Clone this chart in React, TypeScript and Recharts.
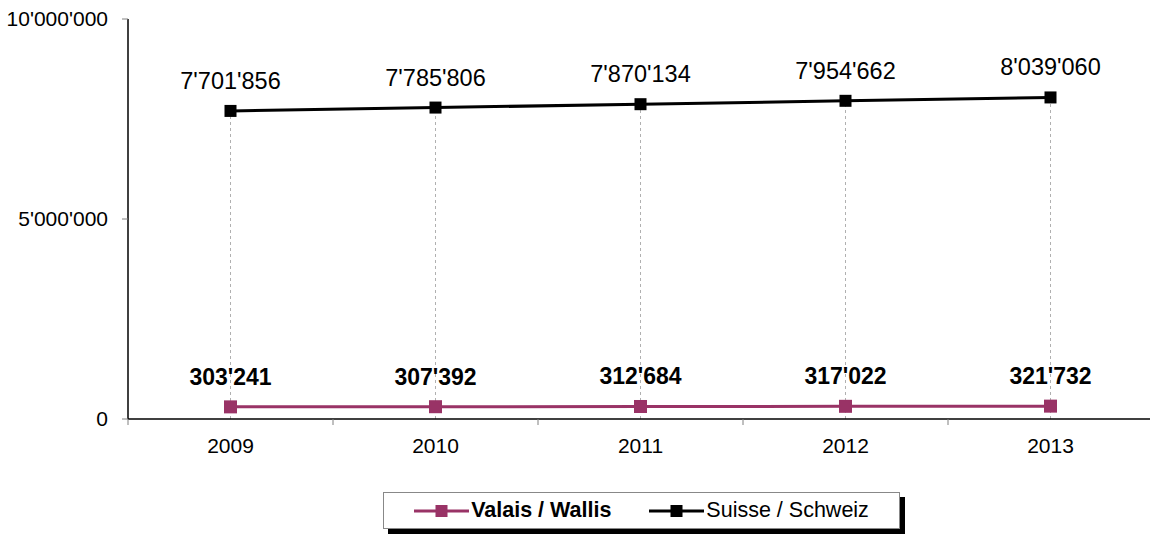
import React from 'react';
import { LineChart, Line, XAxis, YAxis, LabelList, ReferenceLine } from 'recharts';

const years = ['2009', '2010', '2011', '2012', '2013'];
const valais = [303241, 307392, 312684, 317022, 321732];
const suisse = [7701856, 7785806, 7870134, 7954662, 8039060];
const yTicks = [0, 5000000, 10000000];

const VALAIS_COLOR = '#993366';
const FONT = 'Arial, "Liberation Sans", sans-serif';
const X_TICK_SIZE = 6;
const X_TICK_MARGIN = 13;

const data = years.map((year, i) => ({ year, valais: valais[i], suisse: suisse[i] }));

const fmt = (v: number) => String(v).replace(/\B(?=(\d{3})+(?!\d))/g, "'");

const squareDot = (color: string, size: number) => (props: any) => {
  const { cx, cy, index } = props;
  if (cx == null || cy == null) return <g key={index} />;
  return <rect key={index} x={cx - size / 2} y={cy - size / 2} width={size} height={size} fill={color} />;
};

// category label centred in its band, tick mark drawn at the band boundary (Excel style)
const BandTick = (props: any) => {
  const { x, y, payload, width, visibleTicksCount, index } = props;
  const band = Number(width) / (visibleTicksCount || years.length);
  const axisY = y - X_TICK_SIZE - X_TICK_MARGIN;
  const left = x - band / 2;
  return (
    <g>
      <line x1={left} y1={axisY} x2={left} y2={axisY + X_TICK_SIZE} stroke="#808080" />
      {index === visibleTicksCount - 1 && (
        <line x1={left + band} y1={axisY} x2={left + band} y2={axisY + X_TICK_SIZE} stroke="#808080" />
      )}
      <text x={x} y={y} dy="0.71em" textAnchor="middle" fontSize={21} fill="#000" fontFamily={FONT}>
        {payload.value}
      </text>
    </g>
  );
};

const LegendItem = ({ color, label, bold }: { color: string; label: string; bold?: boolean }) => (
  <div style={{ display: 'flex', alignItems: 'center' }}>
    <svg width={55} height={14}>
      <line x1={0} y1={7} x2={55} y2={7} stroke={color} strokeWidth={3} />
      <rect x={21.5} y={1} width={12} height={12} fill={color} />
    </svg>
    <span style={{ marginLeft: 2, fontSize: 21.5, fontWeight: bold ? 'bold' : 'normal' }}>{label}</span>
  </div>
);

export default function App() {
  return (
    <div
      style={{
        position: 'absolute',
        left: 0,
        top: 0,
        width: 1150,
        height: 534,
        overflow: 'hidden',
        background: '#fff',
        fontFamily: FONT,
      }}
    >
      <LineChart width={1153} height={534} data={data} margin={{ top: 19, right: 0, bottom: 75, left: 0 }}>
        <XAxis
          dataKey="year"
          scale="band"
          height={40}
          axisLine={{ stroke: '#000', strokeWidth: 1.5 }}
          tickLine={false}
          tickSize={X_TICK_SIZE}
          tickMargin={X_TICK_MARGIN}
          interval={0}
          tick={<BandTick />}
        />
        <YAxis
          width={128}
          domain={[0, 10000000]}
          ticks={yTicks}
          tickFormatter={fmt}
          axisLine={{ stroke: '#000', strokeWidth: 1.5 }}
          tickLine={{ stroke: '#808080' }}
          tickSize={6}
          tickMargin={14}
          tick={{ fontSize: 21, fill: '#000', fontFamily: FONT }}
        />
        {data.map((d) => (
          <ReferenceLine
            key={d.year}
            segment={[
              { x: d.year, y: 0 },
              { x: d.year, y: d.suisse },
            ]}
            stroke="#b0b0b0"
            strokeDasharray="3 3"
            strokeWidth={1}
          />
        ))}
        <Line
          dataKey="valais"
          stroke={VALAIS_COLOR}
          strokeWidth={3}
          dot={squareDot(VALAIS_COLOR, 13)}
          isAnimationActive={false}
        >
          <LabelList
            dataKey="valais"
            position="top"
            offset={22}
            formatter={(v: any) => fmt(Number(v))}
            style={{ fontSize: 23, fontWeight: 'bold', fill: '#000', fontFamily: FONT }}
          />
        </Line>
        <Line
          dataKey="suisse"
          stroke="#000"
          strokeWidth={3}
          dot={squareDot('#000', 12)}
          isAnimationActive={false}
        >
          <LabelList
            dataKey="suisse"
            position="top"
            offset={22}
            formatter={(v: any) => fmt(Number(v))}
            style={{ fontSize: 23.5, fill: '#000', fontFamily: FONT }}
          />
        </Line>
      </LineChart>
      <div
        style={{
          position: 'absolute',
          left: 383,
          top: 492,
          width: 515,
          height: 35,
          border: '1px solid #888',
          boxShadow: '5px 5px 0 #000',
          background: '#fff',
          display: 'flex',
          alignItems: 'center',
          justifyContent: 'center',
          gap: 38,
        }}
      >
        <LegendItem color={VALAIS_COLOR} label="Valais / Wallis" bold />
        <LegendItem color="#000" label="Suisse / Schweiz" />
      </div>
    </div>
  );
}
